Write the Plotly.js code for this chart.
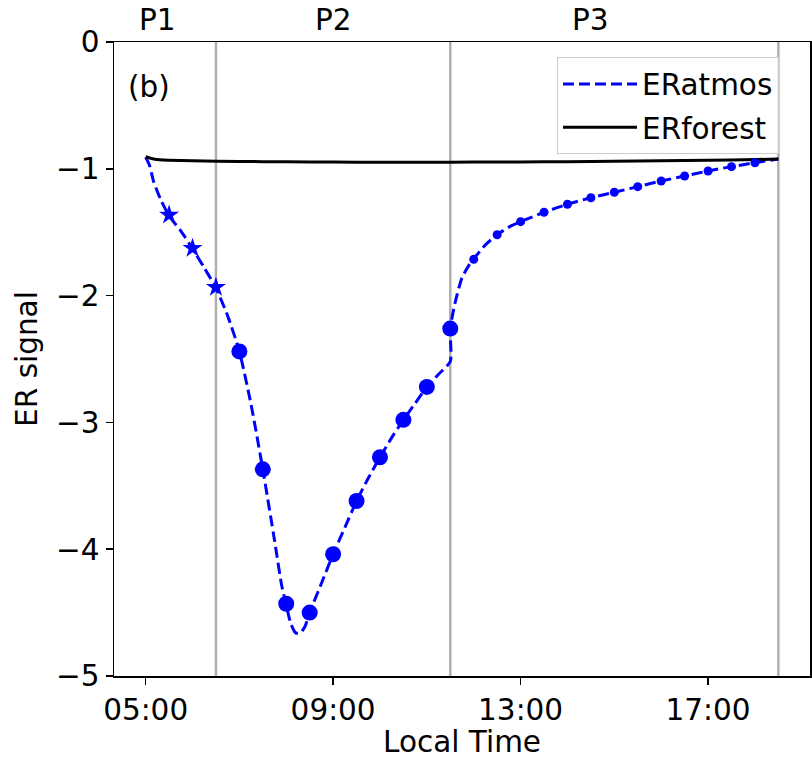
<!DOCTYPE html>
<html>
<head>
<meta charset="utf-8">
<script src="https://cdn.plot.ly/plotly-3.0.1.min.js"></script>
<style>
  html, body { margin: 0; padding: 0; background: #ffffff; }
  #chart { width: 812px; height: 759px; }
</style>
</head>
<body>
<div id="chart"></div>
<script>
// ---- Data (hours of local time, ER signal) ----
const atmosLineX = [5.0, 5.08, 5.17, 5.33, 5.5, 5.75, 6.0, 6.25, 6.5, 6.75, 7.0, 7.25, 7.5, 7.75, 7.9, 8.0, 8.1, 8.2, 8.3, 8.4, 8.5, 8.75, 9.0, 9.25, 9.5, 9.75, 10.0, 10.25, 10.5, 10.75, 11.0, 11.25, 11.5, 11.5, 11.6, 11.75, 11.9, 12.0, 12.25, 12.5, 12.75, 13.0, 13.5, 14.0, 14.5, 15.0, 15.5, 16.0, 16.5, 17.0, 17.5, 18.0, 18.5];
const atmosLineY = [-0.91, -0.97, -1.10, -1.25, -1.37, -1.49, -1.63, -1.78, -1.94, -2.16, -2.44, -2.86, -3.37, -3.93, -4.28, -4.44, -4.59, -4.66, -4.66, -4.61, -4.50, -4.27, -4.04, -3.83, -3.62, -3.44, -3.275, -3.12, -2.98, -2.85, -2.72, -2.62, -2.52, -2.26, -2.06, -1.86, -1.76, -1.71, -1.60, -1.52, -1.46, -1.417, -1.343, -1.28, -1.228, -1.185, -1.141, -1.096, -1.057, -1.017, -0.983, -0.952, -0.923];

const forestX = [5.0, 5.2, 5.5, 6.0, 7.0, 8.0, 9.0, 10.0, 11.0, 12.0, 13.0, 14.0, 15.0, 16.0, 17.0, 18.0, 18.5];
const forestY = [-0.905, -0.925, -0.932, -0.937, -0.942, -0.945, -0.947, -0.948, -0.948, -0.947, -0.946, -0.944, -0.941, -0.937, -0.933, -0.927, -0.923];

const p1X = [5.5, 6.0, 6.5];
const p1Y = [-1.364, -1.627, -1.935];

const p2X = [7.0, 7.5, 8.0, 8.5, 9.0, 9.5, 10.0, 10.5, 11.0, 11.5];
const p2Y = [-2.44, -3.37, -4.43, -4.50, -4.04, -3.62, -3.275, -2.98, -2.72, -2.26];

const p3X = [12.0, 12.5, 13.0, 13.5, 14.0, 14.5, 15.0, 15.5, 16.0, 16.5, 17.0, 17.5, 18.0];
const p3Y = [-1.714, -1.52, -1.417, -1.343, -1.28, -1.228, -1.185, -1.141, -1.096, -1.057, -1.017, -0.983, -0.952];

const phaseBounds = [6.5, 11.5, 18.5];
const phaseLabels = ['P1', 'P2', 'P3'];
const phaseLabelX = [5.25, 9.0, 14.5];

const xTickVals = [5, 9, 13, 17];
const xTickText = ['05:00', '09:00', '13:00', '17:00'];
const yTickVals = [0, -1, -2, -3, -4, -5];
const yTickText = ['0', '\u22121', '\u22122', '\u22123', '\u22124', '\u22125'];

const FONT = 'DejaVu Sans, sans-serif';
const FS = 29.5;
const BLUE = '#0000ff';

const traces = [
  { x: atmosLineX, y: atmosLineY, type: 'scatter', mode: 'lines', name: 'ERatmos', legendgroup: 'a',
    line: { color: BLUE, width: 3, dash: '11px,5px', shape: 'spline', smoothing: 0.6 } },
  { x: forestX, y: forestY, type: 'scatter', mode: 'lines', name: 'ERforest', legendgroup: 'b',
    line: { color: '#000000', width: 3, shape: 'spline', smoothing: 0.6 } },
  { x: p1X, y: p1Y, type: 'scatter', mode: 'markers', showlegend: false,
    marker: { symbol: 'star', size: 15, color: BLUE } },
  { x: p2X, y: p2Y, type: 'scatter', mode: 'markers', showlegend: false,
    marker: { symbol: 'circle', size: 16, color: BLUE } },
  { x: p3X, y: p3Y, type: 'scatter', mode: 'markers', showlegend: false,
    marker: { symbol: 'circle', size: 9, color: BLUE } }
];

const shapes = phaseBounds.map(b => ({
  type: 'line', xref: 'x', yref: 'paper', x0: b, x1: b, y0: 0, y1: 1,
  line: { color: '#b0b0b0', width: 2.5 }, layer: 'below'
}));

const annotations = phaseLabels.map((t, i) => ({
  text: t, xref: 'x', yref: 'paper', x: phaseLabelX[i], y: 1, yshift: 22,
  showarrow: false, xanchor: 'center', yanchor: 'middle',
  font: { family: FONT, size: FS, color: '#000' }
}));
annotations.push({
  text: '(b)', xref: 'x', yref: 'y', x: 5.07, y: -0.355, showarrow: false,
  xanchor: 'center', yanchor: 'middle', font: { family: FONT, size: FS, color: '#000' }
});

const layout = {
  width: 812, height: 759,
  margin: { l: 114, r: 2, t: 42, b: 83 },
  paper_bgcolor: '#ffffff', plot_bgcolor: '#ffffff',
  font: { family: FONT, size: FS, color: '#000' },
  showlegend: true,
  legend: {
    x: 0.6365, y: 0.976, xanchor: 'left', yanchor: 'top',
    traceorder: 'grouped', tracegroupgap: 2, itemwidth: 74,
    bgcolor: 'rgba(255,255,255,0.8)', bordercolor: '#cccccc', borderwidth: 1,
    font: { family: FONT, size: FS, color: '#000' }
  },
  xaxis: {
    range: [4.325, 19.175], tickmode: 'array', tickvals: xTickVals, ticktext: xTickText,
    showgrid: false, zeroline: false, showline: true, linecolor: '#000', linewidth: 1.5,
    mirror: true, ticks: 'outside', ticklen: 7, tickwidth: 1.5, tickcolor: '#000',
    tickfont: { family: FONT, size: FS },
    title: { text: 'Local Time', font: { family: FONT, size: FS }, standoff: 6 }
  },
  yaxis: {
    range: [-5, 0], tickmode: 'array', tickvals: yTickVals, ticktext: yTickText,
    showgrid: false, zeroline: false, showline: true, linecolor: '#000', linewidth: 1.5,
    mirror: true, ticks: 'outside', ticklen: 7, tickwidth: 1.5, tickcolor: '#000',
    tickfont: { family: FONT, size: FS },
    title: { text: 'ER signal', font: { family: FONT, size: FS }, standoff: 10 }
  },
  shapes: shapes,
  annotations: annotations
};

Plotly.newPlot('chart', traces, layout, { staticPlot: true, displayModeBar: false });
</script>
</body>
</html>
